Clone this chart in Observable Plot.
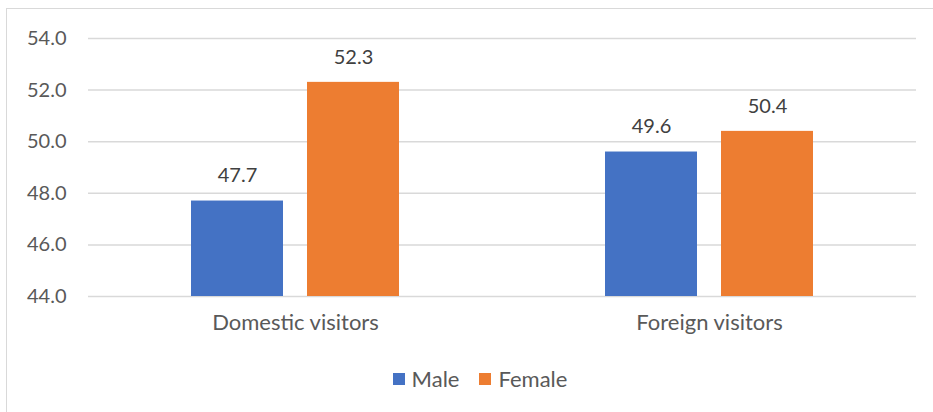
<!DOCTYPE html>
<html>
<head>
<meta charset="utf-8">
<script src="https://cdn.jsdelivr.net/npm/d3@7"></script>
<script src="https://cdn.jsdelivr.net/npm/@observablehq/plot@0.6"></script>
<style>
  body { margin: 0; background: #fff; font-family: Lato, "Open Sans", sans-serif; }
  #wrap { position: relative; width: 933px; height: 412px; overflow: hidden; }
  #frame { position: absolute; left: 6px; top: 8px; width: 1000px; height: 500px;
           border-left: 1.5px solid #d9d9d9; border-top: 1.5px solid #d9d9d9; pointer-events: none; }
  #legend { display: flex; justify-content: center; gap: 20px; margin-top: 12px;
            font-size: 22px; line-height: 24px; color: #595959; padding-left: 27px; }
  #legend .item { display: flex; align-items: center; gap: 7px; }
  #legend .sw { width: 12px; height: 12px; }
</style>
</head>
<body>
<div id="wrap"><div id="frame"></div><div id="chart"></div><div id="legend"></div></div>
<script>
// Visitor shares by sex (%)
const categories = ["Domestic visitors", "Foreign visitors"];
const series = ["Male", "Female"];
const male = [47.7, 49.6];
const female = [52.3, 50.4];
const yTicks = [44, 46, 48, 50, 52, 54];
const colors = ["#4472C4", "#ED7D31"];

const rows = categories.flatMap((c, i) => [
  {category: c, sex: series[0], value: male[i]},
  {category: c, sex: series[1], value: female[i]}
]);

const ink = "#595959";

const chart = Plot.plot({
  width: 933,
  height: 355,
  marginLeft: 88,
  marginRight: 17,
  marginTop: 38,
  marginBottom: 59,
  style: {fontFamily: "Lato, 'Open Sans', sans-serif", fontSize: "20px", color: ink, background: "transparent"},
  fx: {domain: categories, padding: 0, label: null},
  x: {domain: series, paddingInner: 0.205, paddingOuter: 0.872},
  y: {domain: [44, 54], label: null},
  color: {domain: series, range: colors},
  marks: [
    Plot.ruleY(yTicks, {stroke: "#d9d9d9", strokeWidth: 1.5}),
    Plot.axisY(yTicks, {tickFormat: d3.format(".1f"), tickSize: 0, tickPadding: 22, fontSize: 20, fill: ink, label: null}),
    Plot.axisFx({anchor: "bottom", tickSize: 0, tickPadding: 18, fontSize: 22, fill: ink, label: null}),
    Plot.axisX({ticks: [], label: null}),
    Plot.barY(rows, {fx: "category", x: "sex", y1: 44, y2: "value", fill: "sex"}),
    Plot.text(rows, {fx: "category", x: "sex", y: "value", text: d => d.value.toFixed(1),
      dy: -25, fill: "#404040", fontSize: 20})
  ]
});
document.getElementById("chart").appendChild(chart);

const legend = document.getElementById("legend");
series.forEach((s, i) => {
  const item = document.createElement("div");
  item.className = "item";
  const sw = document.createElement("span");
  sw.className = "sw";
  sw.style.background = colors[i];
  const label = document.createElement("span");
  label.textContent = s;
  item.append(sw, label);
  legend.appendChild(item);
});
</script>
</body>
</html>
